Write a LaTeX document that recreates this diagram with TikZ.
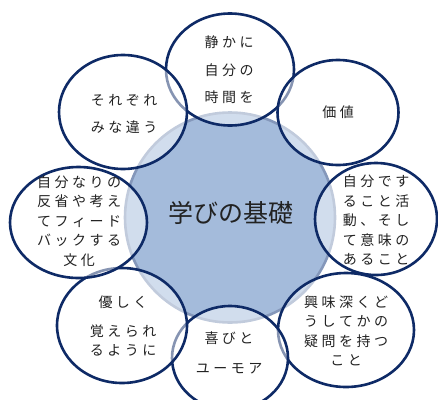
\documentclass[tikz,border=0pt]{standalone}
\usepackage{fontspec}
\newfontfamily\jp{Noto Sans CJK JP}
\usetikzlibrary{shapes.geometric}
\definecolor{navy}{HTML}{0E2A66}
\definecolor{cfill}{HTML}{A4BBDB}
\definecolor{cline}{HTML}{8497BA}
\definecolor{txt}{HTML}{222222}
\newcommand\jpline[1]{\jplinei#1\relax}
\def\jplinei#1{\ifx\relax#1\else\makebox[17.5pt][c]{#1}\expandafter\jplinei\fi}
\begin{document}
\begin{tikzpicture}[x=1pt,y=-1pt,
  core/.style={circle, inner sep=0pt, minimum size=210pt, fill=cfill, draw=cline, line width=2.6pt},
  outer/.style={ellipse, inner sep=0pt, draw=navy, line width=2.6pt, fill=white, fill opacity=0.5},
  lbl/.style={font=\jp\fontsize{14}{19.5}\selectfont, align=center, text=txt, inner sep=0pt},
  big/.style={font=\jp\fontsize{25}{30}\selectfont, text=txt, inner sep=0pt}]
\useasboundingbox (0,0) rectangle (438,399);
\clip (0,0) rectangle (438,399);
\node[core] (core) at (230,217.5) {};
\node[outer, minimum width=128pt, minimum height=112pt] (n1) at (230,69.5) {};
\node[outer, minimum width=121pt, minimum height=105pt] (n2) at (338,112.5) {};
\node[outer, minimum width=122pt, minimum height=112pt] (n3) at (376,219) {};
\node[outer, minimum width=136pt, minimum height=114pt] (n4) at (346,330) {};
\node[outer, minimum width=116pt, minimum height=104pt] (n5) at (230,358) {};
\node[outer, minimum width=130pt, minimum height=115pt] (n6) at (122,325.5) {};
\node[outer, minimum width=137pt, minimum height=111pt] (n7) at (78.5,222.5) {};
\node[outer, minimum width=128pt, minimum height=114pt] (n8) at (123,112) {};
\node[big] (tc) at (231,213) {学びの基礎};
\node[lbl] (t1) at (229,70) {\jpline{静かに}\\[8pt]\jpline{自分の}\\[8pt]\jpline{時間を}};
\node[lbl] (t2) at (338,112) {\jpline{価値}};
\node[lbl] (t3) at (376,220) {\jpline{自分です}\\\jpline{ること活}\\\jpline{動、そし}\\\jpline{て意味の}\\\jpline{あること}};
\node[lbl] (t4) at (346,331) {\jpline{興味深くど}\\\jpline{うしてかの}\\\jpline{疑問を持つ}\\\jpline{こと}};
\node[lbl] (t5) at (229,353) {\jpline{喜びと}\\[10.5pt]\jpline{ユーモア}};
\node[lbl] (t6) at (123,326) {\jpline{優しく}\\[9.5pt]\jpline{覚えられ}\\\jpline{るように}};
\node[lbl] (t7) at (79,221) {\jpline{自分なりの}\\\jpline{反省や考え}\\\jpline{てフィード}\\\jpline{バックする}\\\jpline{文化}};
\node[lbl] (t8) at (124,113.5) {\jpline{それぞれ}\\[7.5pt]\jpline{みな違う}};
\end{tikzpicture}
\end{document}
